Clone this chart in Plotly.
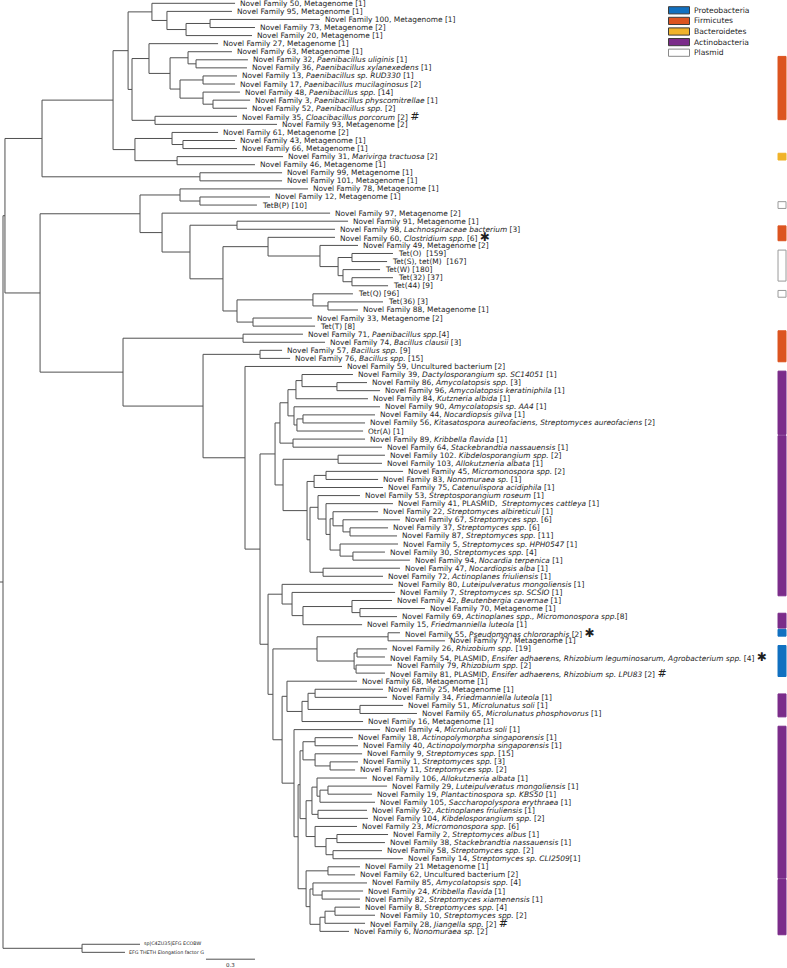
import re
import plotly.graph_objects as go

# ---------------- data ----------------
LABELS = [
    "Novel Family 50, Metagenome [1]",
    "Novel Family 95, Metagenome [1]",
    "Novel Family 100, Metagenome [1]",
    "Novel Family 73, Metagenome [2]",
    "Novel Family 20, Metagenome [1]",
    "Novel Family 27, Metagenome [1]",
    "Novel Family 63, Metagenome [1]",
    "Novel Family 32, <i>Paenibacillus uliginis</i> [1]",
    "Novel Family 36, <i>Paenibacillus xylanexedens</i> [1]",
    "Novel Family 13, <i>Paenibacillus sp. RUD330</i> [1]",
    "Novel Family 17, <i>Paenibacillus mucilaginosus</i> [2]",
    "Novel Family 48, <i>Paenibacillus spp.</i> [14]",
    "Novel Family 3, <i>Paenibacillus physcomitrellae</i> [1]",
    "Novel Family 52, <i>Paenibacillus spp.</i> [2]",
    "Novel Family 35, <i>Cloacibacillus porcorum</i> [2]",
    "Novel Family 93, Metagenome [2]",
    "Novel Family 61, Metagenome [2]",
    "Novel Family 43, Metagenome [1]",
    "Novel Family 66, Metagenome [1]",
    "Novel Family 31, <i>Marivirga tractuosa</i> [2]",
    "Novel Family 46, Metagenome [1]",
    "Novel Family 99, Metagenome [1]",
    "Novel Family 101, Metagenome [1]",
    "Novel Family 78, Metagenome [1]",
    "Novel Family 12, Metagenome [1]",
    "TetB(P) [10]",
    "Novel Family 97, Metagenome [2]",
    "Novel Family 91, Metagenome [1]",
    "Novel Family 98, <i>Lachnospiraceae bacterium</i> [3]",
    "Novel Family 60, <i>Clostridium spp.</i> [6]",
    "Novel Family 49, Metagenome [2]",
    "Tet(O)  [159]",
    "Tet(S), tet(M)  [167]",
    "Tet(W) [180]",
    "Tet(32) [37]",
    "Tet(44) [9]",
    "Tet(Q) [96]",
    "Tet(36) [3]",
    "Novel Family 88, Metagenome [1]",
    "Novel Family 33, Metagenome [2]",
    "Tet(T) [8]",
    "Novel Family 71, <i>Paenibacillus spp.</i>[4]",
    "Novel Family 74, <i>Bacillus clausii</i> [3]",
    "Novel Family 57, <i>Bacillus spp.</i> [9]",
    "Novel Family 76, <i>Bacillus spp.</i> [15]",
    "Novel Family 59, Uncultured bacterium [2]",
    "Novel Family 39, <i>Dactylosporangium sp. SC14051</i> [1]",
    "Novel Family 86, <i>Amycolatopsis spp.</i> [3]",
    "Novel Family 96, <i>Amycolatopsis keratiniphila</i> [1]",
    "Novel Family 84, <i>Kutzneria albida</i> [1]",
    "Novel Family 90, <i>Amycolatopsis sp. AA4</i> [1]",
    "Novel Family 44, <i>Nocardiopsis gilva</i> [1]",
    "Novel Family 56, <i>Kitasatospora aureofaciens, Streptomyces aureofaciens</i> [2]",
    "Otr(A) [1]",
    "Novel Family 89, <i>Kribbella flavida</i> [1]",
    "Novel Family 64, <i>Stackebrandtia nassauensis</i> [1]",
    "Novel Family 102. <i>Kibdelosporangium spp.</i> [2]",
    "Novel Family 103, <i>Allokutzneria albata</i> [1]",
    "Novel Family 45, <i>Micromonospora spp.</i> [2]",
    "Novel Family 83, <i>Nonomuraea sp.</i> [1]",
    "Novel Family 75, <i>Catenulispora acidiphila</i> [1]",
    "Novel Family 53, <i>Streptosporangium roseum</i> [1]",
    "Novel Family 41, PLASMID,  <i>Streptomyces cattleya</i> [1]",
    "Novel Family 22, <i>Streptomyces albireticuli</i> [1]",
    "Novel Family 67, <i>Streptomyces spp.</i> [6]",
    "Novel Family 37, <i>Streptomyces spp.</i> [6]",
    "Novel Family 87, <i>Streptomyces spp.</i> [11]",
    "Novel Family 5, <i>Streptomyces sp. HPH0547</i> [1]",
    "Novel Family 30, <i>Streptomyces spp.</i> [4]",
    "Novel Family 94, <i>Nocardia terpenica</i> [1]",
    "Novel Family 47, <i>Nocardiopsis alba</i> [1]",
    "Novel Family 72, <i>Actinoplanes friuliensis</i> [1]",
    "Novel Family 80, <i>Luteipulveratus mongoliensis</i> [1]",
    "Novel Family 7, <i>Streptomyces sp. SCSIO</i> [1]",
    "Novel Family 42, <i>Beutenbergia cavernae</i> [1]",
    "Novel Family 70, Metagenome [1]",
    "Novel Family 69, <i>Actinoplanes spp., Micromonospora spp.</i>[8]",
    "Novel Family 15, <i>Friedmanniella luteola</i> [1]",
    "Novel Family 55, <i>Pseudomonas chlororaphis</i> [2]",
    "Novel Family 77, Metagenome [1]",
    "Novel Family 26, <i>Rhizobium spp.</i> [19]",
    "Novel Family 54, PLASMID, <i>Ensifer adhaerens, Rhizobium leguminosarum, Agrobacterium spp.</i> [4]",
    "Novel Family 79, <i>Rhizobium spp.</i> [2]",
    "Novel Family 81, PLASMID, <i>Ensifer adhaerens, Rhizobium sp. LPU83</i> [2]",
    "Novel Family 68, Metagenome [1]",
    "Novel Family 25, Metagenome [1]",
    "Novel Family 34, <i>Friedmanniella luteola</i> [1]",
    "Novel Family 51, <i>Microlunatus soli</i> [1]",
    "Novel Family 65, <i>Microlunatus phosphovorus</i> [1]",
    "Novel Family 16, Metagenome [1]",
    "Novel Family 4, <i>Microlunatus soli</i> [1]",
    "Novel Family 18, <i>Actinopolymorpha singaporensis</i> [1]",
    "Novel Family 40, <i>Actinopolymorpha singaporensis</i> [1]",
    "Novel Family 9, <i>Streptomyces spp.</i> [15]",
    "Novel Family 1, <i>Streptomyces spp.</i> [3]",
    "Novel Family 11, <i>Streptomyces spp.</i> [2]",
    "Novel Family 106, <i>Allokutzneria albata</i> [1]",
    "Novel Family 29, <i>Luteipulveratus mongoliensis</i> [1]",
    "Novel Family 19, <i>Plantactinospora sp. KBS50</i> [1]",
    "Novel Family 105, <i>Saccharopolyspora erythraea</i> [1]",
    "Novel Family 92, <i>Actinoplanes friuliensis</i> [1]",
    "Novel Family 104, <i>Kibdelosporangium spp.</i> [2]",
    "Novel Family 23, <i>Micromonospora spp.</i> [6]",
    "Novel Family 2, <i>Streptomyces albus</i> [1]",
    "Novel Family 38, <i>Stackebrandtia nassauensis</i> [1]",
    "Novel Family 58, <i>Streptomyces spp.</i> [2]",
    "Novel Family 14, <i>Streptomyces sp. CLI2509</i>[1]",
    "Novel Family 21 Metagenome [1]",
    "Novel Family 62, Uncultured bacterium [2]",
    "Novel Family 85, <i>Amycolatopsis spp.</i> [4]",
    "Novel Family 24, <i>Kribbella flavida</i> [1]",
    "Novel Family 82, <i>Streptomyces xiamenensis</i> [1]",
    "Novel Family 8, <i>Streptomyces spp.</i> [4]",
    "Novel Family 10, <i>Streptomyces spp.</i> [2]",
    "Novel Family 28, <i>Jiangella spp.</i> [2]",
    "Novel Family 6, <i>Nonomuraea sp.</i> [2]",
    "sp|C4ZU35|EFG ECOBW",
    "EFG THETH Elongation factor G",
]

# leaf number -> mark after its label
MARK_LEAF = [15, 30, 79, 82, 84, 115]
MARK_SYMBOL = ["#", "\u2731", "\u2731", "\u2731", "#", "#"]

OUTGROUP_LEAVES = [117, 118]
OUTGROUP_GAP = 0.6

# Tree, Newick-like; value after ':' is node depth from the root (substitutions/site)
T1A = "(L1:1.421,(L2:1.402,((L3:1.941,L4:1.543):1.268,L5:1.525):1.121):1.004):0.912"
T1B = ("(L6:1.317,((L7:1.402,(L8:1.500,L9:1.494):1.182):1.133,((L10:1.433,L11:1.421):1.225,"
       "(L12:1.451,(L13:1.513,L14:1.494):1.286):1.225):1.084):1.023):0.894")
T1 = f"({T1A},({T1B},(L15:1.433,L16:1.678):0.931):0.790):0.766"
U2 = ("((L17:1.317,(L18:1.421,L19:1.433):1.102):1.035,"
      "(L20:1.715,L21:1.543):1.066):0.808")
TOP = f"(({T1},{U2}):0.674,(L22:1.709,L23:1.709):1.206):0.239"
TET = "((L32:2.388,L33:2.352):2.137,(L34:2.309,(L35:2.388,L36:2.358):2.137):2.082):2.052"
TETQ = "((L37:2.143,(L38:2.327,L39:2.174):1.990):1.898,(L40:1.892,L41:1.911):1.531):1.433"
W = (f"((L24:1.868,(L25:1.635,L26:1.555):1.206):1.084,"
     f"(L27:2.003,((L28:2.113,L29:2.033):1.433,((L30:2.033,(L31:2.174,{TET}):1.941):1.623,"
     f"{TETQ}):1.347):1.145):0.974):0.839")
ACT_G = ("(((L47:2.143,(L48:2.229,L49:2.309):2.045):1.831,L50:2.235):1.794,"
         "(L51:2.309,((L52:2.278,L53:2.217):1.837,L54:2.205):1.800):1.782):1.745")
ACT_G1 = f"({ACT_G},(L55:2.217,L56:2.321):1.776):1.696"
STREP = ("(L63:2.388,((L64:2.297,(L65:2.431,(L66:2.358,L67:2.413):2.125):2.082):2.021,"
         "(L68:2.419,(L69:2.339,L70:2.492):2.143):2.064):2.003):1.978")
ACT_H1 = (f"((L57:2.339,L58:2.321):2.052,(((L59:2.450,L60:2.297):1.978,L61:2.327):1.905,"
          f"((L62:2.186,{STREP}):1.929,(L71:2.431,L72:2.327):1.960):1.880):1.862):1.715")
A1 = f"({ACT_G1},{ACT_H1}):1.666"
NF80G = "(L73:2.388,(L74:2.401,((L75:2.382,(L76:2.584,L77:2.413):2.186):2.137,L78:2.199):1.837):1.770):1.709"
PROTEO = ("((L79:2.431,L80:2.707):2.358,((L81:2.352,L82:2.339):2.168,"
          "(L83:2.382,L84:2.339):2.162):2.150):1.923")
G1 = "(((L86:2.327,L87:2.352):1.911,(L88:2.450,L89:2.535):2.186):1.868,L90:2.205):1.831"
P1 = "((L92:2.143,L93:2.174):1.911,(L94:2.199,(L95:2.174,L96:2.156):2.003):1.911):1.837"
P2 = ("(((L97:2.229,((L98:2.352,L99:2.260):1.990,L100:2.278):1.941):1.923,"
      "(L101:2.229,L102:2.235):1.929):1.892,(L103:2.168,((L104:2.358,L105:2.339):2.045,"
      "(L106:2.321,L107:2.450):2.021):1.978):1.911):1.856")
P3 = ("((L108:2.186,L109:2.156):1.990,((L110:2.229,(L111:2.205,L112:2.186):1.954):1.898,"
      "(((L113:2.186,L114:2.278):2.033,L115:2.217):1.972,L116:2.119):1.941):1.880):1.856")
LOWER = f"((L85:2.168,{G1}):1.739,(L91:2.309,(({P1},{P2}):1.819,{P3}):1.807):1.782):1.709"
ACT_ALL = f"({A1},({NF80G},({PROTEO},{LOWER}):1.653):1.623):1.574"
X = (f"((L42:1.837,L43:1.972):1.470,((L44:1.709,L45:1.758):1.574,"
     f"(L46:2.076,{ACT_ALL}):1.482):1.225):0.735")
OUT = "(L117:0.839,L118:0.747):0.484"
TREE = f"(({TOP},({W},{X}):0.227):0.012,{OUT}):0"

# coloured taxonomy bars (leaf numbers, inclusive)
BAR_GROUP = ["Firmicutes", "Bacteroidetes", "Plasmid", "Firmicutes", "Plasmid", "Plasmid",
             "Firmicutes", "Actinobacteria", "Actinobacteria", "Actinobacteria",
             "Proteobacteria", "Proteobacteria", "Actinobacteria", "Actinobacteria",
             "Actinobacteria"]
BAR_FIRST = [8, 20, 26, 29, 32, 37, 42, 47, 55, 77, 79, 81, 87, 91, 110]
BAR_LAST = [15, 20, 26, 30, 35, 37, 45, 54, 74, 78, 79, 84, 89, 109, 116]

LEGEND_NAMES = ["Proteobacteria", "Firmicutes", "Bacteroidetes", "Actinobacteria", "Plasmid"]
GROUP_COLORS = {"Proteobacteria": "#1170c0", "Firmicutes": "#dc5420",
                "Bacteroidetes": "#f0b32a", "Actinobacteria": "#7b2c8a",
                "Plasmid": "#ffffff"}

SCALE_LEN = 0.3
SCALE_LABEL = "0.3"

# ---------------- parse tree ----------------
def parse(s):
    pos = 0

    def node():
        nonlocal pos
        if s[pos] == "(":
            pos += 1
            kids = [node()]
            while s[pos] == ",":
                pos += 1
                kids.append(node())
            assert s[pos] == ")"
            pos += 1
            name = None
        else:
            m = re.match(r"[A-Za-z0-9_]+", s[pos:])
            name = m.group(0)
            pos += len(name)
            kids = []
        assert s[pos] == ":"
        pos += 1
        m = re.match(r"[0-9.]+", s[pos:])
        depth = float(m.group(0))
        pos += len(m.group(0))
        return {"name": name, "kids": kids, "depth": depth}

    return node()


root = parse(TREE)


def leaf_y(num):
    y = num - 1
    if num in OUTGROUP_LEAVES:
        y += OUTGROUP_GAP
    return y


lx, ly = [], []
tips = {}


def layout(n, parent_depth):
    if not n["kids"]:
        num = int(n["name"][1:])
        n["y"] = leaf_y(num)
        tips[num] = (n["depth"], n["y"])
    else:
        for k in n["kids"]:
            layout(k, n["depth"])
        n["y"] = (n["kids"][0]["y"] + n["kids"][-1]["y"]) / 2
        lx.extend([n["depth"], n["depth"], None])
        ly.extend([n["kids"][0]["y"], n["kids"][-1]["y"], None])
    if parent_depth is not None:
        lx.extend([parent_depth, n["depth"], None])
        ly.extend([n["y"], n["y"], None])


layout(root, None)
# root stub
lx.extend([-0.02, 0, None])
ly.extend([root["y"], root["y"], None])

# ---------------- figure ----------------
fig = go.Figure()
fig.add_trace(go.Scatter(x=lx, y=ly, mode="lines",
                         line=dict(color="#505050", width=1), hoverinfo="skip",
                         showlegend=False))

FONT = "DejaVu Sans, Verdana, sans-serif"
annotations = []
for num, lab in enumerate(LABELS, start=1):
    d, y = tips[num]
    txt = lab
    if num in MARK_LEAF:
        sym = MARK_SYMBOL[MARK_LEAF.index(num)]
        size = 11 if sym == "#" else 12
        txt += f" <span style='font-size:{size}px;font-family:DejaVu Sans'>{sym}</span>"
    small = num in OUTGROUP_LEAVES
    annotations.append(dict(x=d, y=y, xref="x", yref="y", text=txt, showarrow=False,
                            xanchor="left", yanchor="middle", xshift=2 if small else 3,
                            font=dict(family=FONT, size=4.8 if small else 7.45,
                                      color="#1e1e1e")))

shapes = []
BAR_X0, BAR_X1 = 4.746, 4.795
for g, a, b in zip(BAR_GROUP, BAR_FIRST, BAR_LAST):
    shapes.append(dict(type="rect", xref="x", yref="y", x0=BAR_X0, x1=BAR_X1,
                       y0=leaf_y(a) - 0.42, y1=leaf_y(b) + 0.42,
                       fillcolor=GROUP_COLORS[g],
                       line=dict(color="#9a9a9a" if g == "Plasmid" else GROUP_COLORS[g],
                                 width=1)))

# scale bar
SB_X0 = 1.243
SB_Y = 118.45
fig.add_trace(go.Scatter(x=[SB_X0, SB_X0 + SCALE_LEN], y=[SB_Y, SB_Y], mode="lines",
                         line=dict(color="#505050", width=1), hoverinfo="skip",
                         showlegend=False))
annotations.append(dict(x=SB_X0 + SCALE_LEN / 2, y=SB_Y, xref="x", yref="y",
                        text=SCALE_LABEL, showarrow=False, yanchor="top", yshift=-1,
                        font=dict(family=FONT, size=5.5, color="#1e1e1e")))

# legend (paper coordinates)
W_PX, H_PX = 787, 968
for i, name in enumerate(LEGEND_NAMES):
    yc = 10.3 + i * 10.6
    shapes.append(dict(type="rect", xref="paper", yref="paper",
                       x0=668.5 / W_PX, x1=689.5 / W_PX,
                       y0=1 - (yc - 3.6) / H_PX, y1=1 - (yc + 3.6) / H_PX,
                       fillcolor=GROUP_COLORS[name],
                       line=dict(color="#3c3c3c" if name != "Plasmid" else "#8a8a8a",
                                 width=1)))
    annotations.append(dict(x=691.5 / W_PX, y=1 - yc / H_PX, xref="paper", yref="paper",
                            text=name, showarrow=False, xanchor="left", yanchor="middle",
                            font=dict(family=FONT, size=7.6, color="#1e1e1e")))

PX_PER_UNIT = 163.3
fig.update_layout(
    width=W_PX, height=H_PX, margin=dict(l=0, r=0, t=0, b=0),
    paper_bgcolor="white", plot_bgcolor="white",
    xaxis=dict(range=[-3 / PX_PER_UNIT, (W_PX - 3) / PX_PER_UNIT], visible=False,
               fixedrange=True),
    yaxis=dict(range=[119.54, -0.41], visible=False, fixedrange=True),
    annotations=annotations, shapes=shapes, showlegend=False,
)

fig.write_html("out.html", config={"displayModeBar": False},
               post_script="document.body.style.margin='0';document.body.style.overflow='hidden';")
